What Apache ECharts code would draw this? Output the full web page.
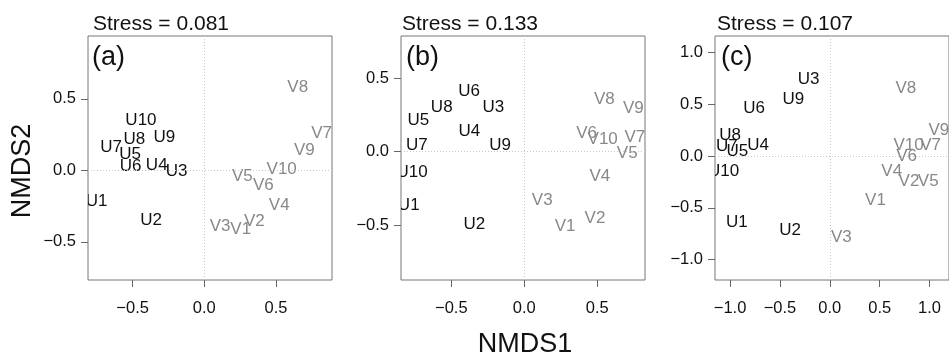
<!DOCTYPE html>
<html>
<head>
<meta charset="utf-8">
<script src="https://cdn.jsdelivr.net/npm/echarts@6/dist/echarts.min.js"></script>
<style>html,body{margin:0;padding:0;background:#fff}#c{width:949px;height:355px}</style>
</head>
<body>
<div id="c"></div>
<script>
const siteLabels = ['U1','U2','U3','U4','U5','U6','U7','U8','U9','U10','V1','V2','V3','V4','V5','V6','V7','V8','V9','V10'];
const panelNames = ['(a)','(b)','(c)'];
const stressTexts = ['Stress = 0.081','Stress = 0.133','Stress = 0.107'];
const tickValuesAB = [-0.5, 0, 0.5];
const tickValuesC = [-1, -0.5, 0, 0.5, 1];

const aX = [-0.751,-0.372,-0.193,-0.332,-0.518,-0.514,-0.651,-0.488,-0.279,-0.442, 0.254,0.349,0.110,0.523,0.265,0.412,0.819,0.652,0.698,0.540];
const aY = [-0.220,-0.348,-0.010,0.032,0.114,0.025,0.161,0.217,0.231,0.347, -0.413,-0.359,-0.394,-0.243,-0.045,-0.108,0.259,0.578,0.142,0.009];
const bX = [-0.792,-0.342,-0.212,-0.377,-0.726,-0.379,-0.737,-0.566,-0.166,-0.769, 0.279,0.484,0.123,0.518,0.705,0.427,0.758,0.548,0.747,0.537];
const bY = [-0.363,-0.492,0.302,0.136,0.211,0.410,0.046,0.302,0.046,-0.143, -0.506,-0.453,-0.329,-0.170,-0.011,0.125,0.098,0.358,0.295,0.084];
const cX = [-0.933,-0.398,-0.212,-0.718,-0.927,-0.760,-1.033,-1.000,-0.365,-1.064, 0.458,0.794,0.115,0.621,0.987,0.770,1.010,0.762,1.093,0.790];
const cY = [-0.643,-0.714,0.740,0.100,0.041,0.460,0.090,0.203,0.547,-0.151, -0.431,-0.248,-0.784,-0.151,-0.248,-0.006,0.106,0.653,0.251,0.106];

const xRanges = [[-0.8116,0.891],[-0.845,0.827],[-1.151,1.195]];
const yRanges = [[-0.767,0.939],[-0.873,0.787],[-1.196,1.157]];

const FONT = '"Liberation Sans", Arial, Helvetica, sans-serif';
const gridLefts = [88, 401, 715];
const GRID_TOP = 36, GRID_W = 244, GRID_H = 244;

const panelsX = [aX, bX, cX];
const panelsY = [aY, bY, cY];

function fmt(v){
  const s = Math.abs(v).toFixed(1);
  return v < 0 ? '\u2212' + s : s;
}

const grids = [], xAxes = [], yAxes = [], series = [], graphics = [];
for (let i = 0; i < 3; i++) {
  grids.push({left: gridLefts[i], top: GRID_TOP, width: GRID_W, height: GRID_H,
    show: true, borderColor: '#777', borderWidth: 1, backgroundColor: 'transparent'});
  const ticks = i === 2 ? tickValuesC : tickValuesAB;
  const axisCommon = {
    axisLine: {show: false, onZero: false},
    axisTick: {show: true, inside: false, length: 7, lineStyle: {color: '#666', width: 1}, customValues: ticks},
    axisLabel: {show: true, color: '#111', fontSize: 16.5, fontFamily: FONT, formatter: fmt, customValues: ticks},
    splitLine: {show: false}
  };
  xAxes.push(Object.assign({type: 'value', gridIndex: i, position: 'bottom', min: xRanges[i][0], max: xRanges[i][1]}, axisCommon,
    {axisLabel: Object.assign({}, axisCommon.axisLabel, {margin: 20})}));
  yAxes.push(Object.assign({type: 'value', gridIndex: i, position: 'left', min: yRanges[i][0], max: yRanges[i][1]}, axisCommon,
    {axisLabel: Object.assign({}, axisCommon.axisLabel, {margin: 12})}));
  const data = siteLabels.map((lab, k) => [panelsX[i][k], panelsY[i][k], lab]);
  series.push({
    type: 'custom',
    xAxisIndex: i, yAxisIndex: i,
    clip: true,
    data: data,
    renderItem: function (params, api) {
      const p = api.coord([api.value(0), api.value(1)]);
      const lab = siteLabels[params.dataIndex];
      return {
        type: 'text',
        style: {
          text: lab, x: p[0], y: p[1],
          align: 'center', verticalAlign: 'middle',
          fill: lab.charAt(0) === 'U' ? '#111' : '#888',
          font: '17px ' + FONT
        }
      };
    },
    markLine: {
      silent: true, symbol: 'none', label: {show: false},
      lineStyle: {type: [1, 2], color: '#c8c8c8', width: 1},
      data: [{xAxis: 0}, {yAxis: 0}],
      animation: false
    },
    animation: false
  });
}

const stressLefts = [93, 402, 717];
const letterLefts = [92, 406, 721];
for (let i = 0; i < 3; i++) {
  graphics.push({type: 'text', left: stressLefts[i], top: 14,
    style: {text: stressTexts[i], font: '21px ' + FONT, fill: '#111'}});
  graphics.push({type: 'text', left: letterLefts[i], top: 44,
    style: {text: panelNames[i], font: '27px ' + FONT, fill: '#111'}});
}
graphics.push({type: 'text', x: 525, y: 345,
  style: {text: 'NMDS1', font: '27px ' + FONT, fill: '#111', align: 'center', verticalAlign: 'middle'}});
graphics.push({type: 'text', x: 23, y: 171, rotation: Math.PI / 2,
  style: {text: 'NMDS2', font: '27px ' + FONT, fill: '#111', align: 'center', verticalAlign: 'middle'}});

const chart = echarts.init(document.getElementById('c'), null, {renderer: 'canvas'});
chart.setOption({
  animation: false,
  grid: grids, xAxis: xAxes, yAxis: yAxes, series: series, graphic: graphics
});
</script>
</body>
</html>
